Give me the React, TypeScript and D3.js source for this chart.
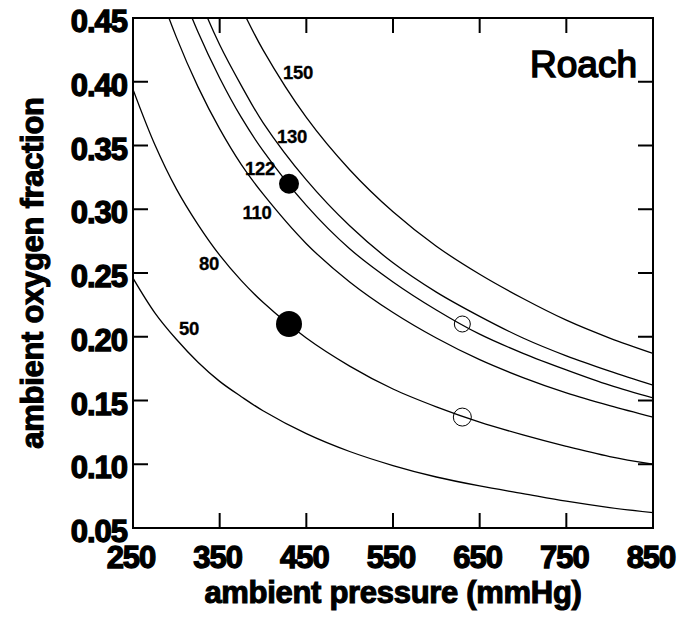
import React from "react";
import * as d3 from "d3";

// Ambient pressure sample points (mmHg)
const pressures = [250, 275, 300, 325, 350, 375, 400, 450, 500, 550, 600, 650, 700, 750, 800, 850];

// Iso-PO2 curves (oxygen fraction read at each pressure)
const curve50 = [0.246, 0.219, 0.198, 0.180, 0.165, 0.153, 0.142, 0.124, 0.110, 0.099, 0.090, 0.083, 0.077, 0.071, 0.066, 0.062];
const curve80 = [0.394, 0.351, 0.316, 0.288, 0.264, 0.244, 0.227, 0.199, 0.177, 0.159, 0.145, 0.133, 0.123, 0.114, 0.106, 0.100];
const curve110 = [0.542, 0.482, 0.435, 0.396, 0.363, 0.335, 0.312, 0.273, 0.243, 0.219, 0.199, 0.182, 0.168, 0.156, 0.146, 0.137];
const curve122 = [0.601, 0.535, 0.482, 0.439, 0.403, 0.372, 0.346, 0.303, 0.269, 0.243, 0.221, 0.202, 0.187, 0.174, 0.162, 0.152];
const curve130 = [0.640, 0.570, 0.514, 0.468, 0.429, 0.397, 0.368, 0.323, 0.287, 0.258, 0.235, 0.216, 0.199, 0.185, 0.173, 0.162];
const curve150 = [0.739, 0.658, 0.593, 0.540, 0.495, 0.458, 0.425, 0.372, 0.331, 0.298, 0.271, 0.249, 0.230, 0.213, 0.199, 0.187];

const curveNames = ["50", "80", "110", "122", "130", "150"];
const curveSeries = [curve50, curve80, curve110, curve122, curve130, curve150];
// label anchor positions (pressure, fraction)
const labelP = [314.6, 337.7, 393, 396.5, 433.5, 440.4];
const labelF = [0.201, 0.252, 0.292, 0.327, 0.352, 0.402];

// Observed points
const filledP = [430, 430];
const filledF = [0.21, 0.32];
const filledR = [13, 10];
const openP = [630, 630];
const openF = [0.21, 0.137];
const openR = [8, 9];

const xTicks = [250, 350, 450, 550, 650, 750, 850];
const yTicks = [0.05, 0.1, 0.15, 0.2, 0.25, 0.3, 0.35, 0.4, 0.45];

export default function App() {
  const W = 690, H = 617;
  const left = 133, right = 653, top = 18, bottom = 528;
  const x = d3.scaleLinear().domain([250, 850]).range([left, right]);
  const y = d3.scaleLinear().domain([0.05, 0.45]).range([bottom, top]);
  const line = d3
    .line<number>()
    .x((_, i) => x(pressures[i]))
    .y((d) => y(d))
    .curve(d3.curveCatmullRom);
  const tickLen = 15;
  const font = "'Liberation Sans', Arial, Helvetica, sans-serif";

  return (
    <svg width={W} height={H} style={{ position: "absolute", left: 0, top: 0, background: "#fff" }}>
      <defs>
        <clipPath id="plot">
          <rect x={left} y={top} width={right - left} height={bottom - top} />
        </clipPath>
      </defs>
      <rect width={W} height={H} fill="#fff" />
      <g clipPath="url(#plot)">
        {curveSeries.map((s, i) => (
          <path key={i} d={line(s) || ""} fill="none" stroke="#000" strokeWidth={1.3} />
        ))}
      </g>
      {curveNames.map((n, i) => (
        <text
          key={n}
          x={x(labelP[i])}
          y={y(labelF[i])}
          textAnchor="middle"
          fontFamily={font}
          fontWeight="bold"
          fontSize={18.5}
          stroke="#000"
          strokeWidth={0.3}
          letterSpacing={-0.3}
          fill="#000"
        >
          {n}
        </text>
      ))}
      {filledP.map((p, i) => (
        <circle key={"f" + i} cx={x(p)} cy={y(filledF[i])} r={filledR[i]} fill="#000" />
      ))}
      {openP.map((p, i) => (
        <circle key={"o" + i} cx={x(p)} cy={y(openF[i])} r={openR[i]} fill="none" stroke="#000" strokeWidth={1} />
      ))}
      {/* frame */}
      <rect x={left} y={top} width={right - left} height={bottom - top} fill="none" stroke="#000" strokeWidth={2} />
      {/* x ticks */}
      {xTicks.map((t) => (
        <g key={"x" + t}>
          <line x1={x(t)} x2={x(t)} y1={bottom} y2={bottom - tickLen} stroke="#000" strokeWidth={2} />
          <line x1={x(t)} x2={x(t)} y1={top} y2={top + tickLen} stroke="#000" strokeWidth={2} />
          <text
            x={x(t) - 2}
            y={bottom + 40}
            textAnchor="middle"
            fontFamily={font}
            fontWeight="bold"
            fontSize={31}
            stroke="#000"
            strokeWidth={1.3}
            letterSpacing={-1}
          >
            {t}
          </text>
        </g>
      ))}
      {/* y ticks */}
      {yTicks.map((t) => (
        <g key={"y" + t}>
          <line x1={left} x2={left + tickLen} y1={y(t)} y2={y(t)} stroke="#000" strokeWidth={2} />
          <line x1={right} x2={right - tickLen} y1={y(t)} y2={y(t)} stroke="#000" strokeWidth={2} />
          <text
            x={127}
            y={y(t) + 14}
            textAnchor="end"
            fontFamily={font}
            fontWeight="bold"
            fontSize={31}
            stroke="#000"
            strokeWidth={1.3}
            letterSpacing={-1}
          >
            {t.toFixed(2)}
          </text>
        </g>
      ))}
      <text
        x={(left + right) / 2}
        y={603}
        textAnchor="middle"
        fontFamily={font}
        fontWeight="bold"
        fontSize={31}
        stroke="#000"
        strokeWidth={1.1}
        letterSpacing={-0.3}
      >
        ambient pressure (mmHg)
      </text>
      <text
        transform={`translate(43, ${(top + bottom) / 2}) rotate(-90)`}
        textAnchor="middle"
        fontFamily={font}
        fontWeight="bold"
        fontSize={31}
        stroke="#000"
        strokeWidth={1.1}
        letterSpacing={-0.3}
      >
        ambient oxygen fraction
      </text>
      <text
        x={637}
        y={77}
        textAnchor="end"
        fontFamily={font}
        fontSize={37}
        stroke="#000"
        strokeWidth={1.6}
      >
        Roach
      </text>
    </svg>
  );
}
